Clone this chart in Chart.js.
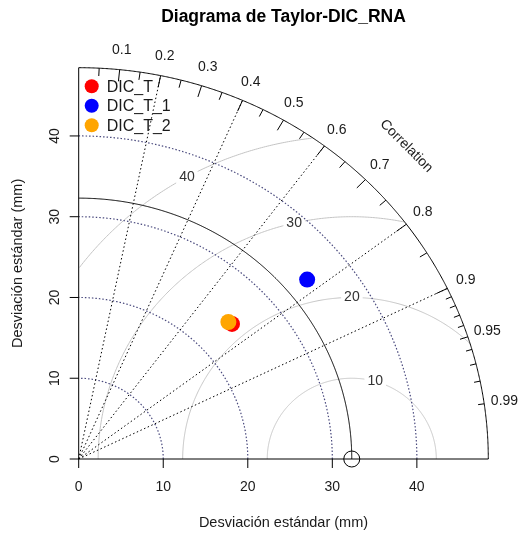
<!DOCTYPE html>
<html><head><meta charset="utf-8">
<script src="https://cdn.jsdelivr.net/npm/chart.js@4.4.1/dist/chart.umd.min.js"></script>
<style>html,body{margin:0;padding:0;background:#fff;}canvas{display:block}</style>
</head><body>
<canvas id="c" width="518" height="533"></canvas>
<script>
// ---- data ----
const seriesNames = ['DIC_T', 'DIC_T_1', 'DIC_T_2'];
const seriesSD = [24.67, 34.98, 24.52];
const seriesCor = [0.735, 0.7725, 0.722];
const refSD = 32.3;
const maxSD = 48.45;
const sdTicks = [0, 10, 20, 30, 40];
const sdArcs = [10, 20, 30, 40];
const rmsLevels = [10, 20, 30, 40];
const corLabels = [0.1, 0.2, 0.3, 0.4, 0.5, 0.6, 0.7, 0.8, 0.9, 0.95, 0.99];
const corLines = [0.2, 0.4, 0.6, 0.8, 0.9];
const corTicksMajor = [0.1, 0.2, 0.3, 0.4, 0.5, 0.6, 0.7, 0.8, 0.9];
const corTicksMinor = [0.05, 0.15, 0.25, 0.35, 0.45, 0.55, 0.65, 0.75, 0.85, 0.95];
const corTicksFine = [0.91, 0.92, 0.93, 0.94, 0.96, 0.97, 0.98, 0.99];
const titleText = 'Diagrama de Taylor-DIC_RNA';
const axisTitle = 'Desviación estándar (mm)';
const corTitle = 'Correlation';

// ---- styles ----
const seriesColors = ['#ff0000', '#0000ff', '#ffa500'];
const FONT = '"Liberation Sans", Arial, sans-serif';

const pts = seriesSD.map((s, i) => ({x: s * seriesCor[i], y: s * Math.sqrt(1 - seriesCor[i] * seriesCor[i])}));

const taylor = {
  id: 'taylor',
  beforeDatasetsDraw(chart, args, opts) {
    const ctx = chart.ctx, xs = chart.scales.x, ys = chart.scales.y;
    const P = (x, y) => [xs.getPixelForValue(x), ys.getPixelForValue(y)];
    const path = (list) => {
      if (!list.length) return;
      ctx.beginPath();
      list.forEach((p, i) => { const q = P(p[0], p[1]); i ? ctx.lineTo(q[0], q[1]) : ctx.moveTo(q[0], q[1]); });
      ctx.stroke();
    };
    const arc = (cx, r, a0, a1, filter) => {
      const out = []; const n = 500;
      for (let i = 0; i <= n; i++) {
        const a = a0 + (a1 - a0) * i / n;
        const x = cx + r * Math.cos(a), y = r * Math.sin(a);
        if (!filter || filter(x, y)) out.push([x, y]);
      }
      return out;
    };
    ctx.save();
    ctx.lineWidth = 1;
    // centred RMS arcs
    ctx.strokeStyle = '#c4c4c4';
    rmsLevels.forEach(g => path(arc(refSD, g, 0, Math.PI, (x, y) => x >= 0 && x * x + y * y <= maxSD * maxSD)));
    ctx.font = '14px ' + FONT;
    ctx.textAlign = 'center'; ctx.textBaseline = 'middle';
    rmsLevels.forEach((g, i) => {
      const a = opts.rmsLabelAngles[i];
      const q = P(refSD + g * Math.cos(a), g * Math.sin(a));
      const w = ctx.measureText(String(g)).width + 6;
      ctx.fillStyle = '#fff';
      ctx.fillRect(q[0] - w / 2, q[1] - 8, w, 16);
      ctx.fillStyle = '#333';
      ctx.fillText(String(g), q[0], q[1]);
    });
    // SD dotted arcs
    ctx.setLineDash([1.5, 2]);
    ctx.lineWidth = 1.2;
    ctx.strokeStyle = '#4a4a7e';
    sdArcs.forEach(r => path(arc(0, r, 0, Math.PI / 2)));
    // correlation radial lines
    ctx.lineWidth = 1;
    ctx.setLineDash([1.5, 2.5]);
    ctx.strokeStyle = '#000';
    corLines.forEach(c => path([[0, 0], [c * maxSD, Math.sqrt(1 - c * c) * maxSD]]));
    ctx.setLineDash([]);
    // reference SD arc and outer arc
    ctx.strokeStyle = '#000';
    path(arc(0, refSD, 0, Math.PI / 2));
    path(arc(0, maxSD, 0, Math.PI / 2));
    // axes lines
    path([[0, 0], [maxSD, 0]]);
    path([[0, 0], [0, maxSD]]);
    // correlation ticks
    const tick = (c, f) => path([[c * maxSD, Math.sqrt(1 - c * c) * maxSD], [c * maxSD * f, Math.sqrt(1 - c * c) * maxSD * f]]);
    corTicksMajor.forEach(c => tick(c, 0.97));
    corTicksMinor.forEach(c => tick(c, 0.98));
    corTicksFine.forEach(c => tick(c, 0.985));
    // axis ticks
    const y0 = ys.getPixelForValue(0), x0 = xs.getPixelForValue(0);
    sdTicks.forEach(v => {
      const xp = xs.getPixelForValue(v);
      ctx.beginPath(); ctx.moveTo(xp, y0); ctx.lineTo(xp, y0 + 9); ctx.stroke();
      const yp = ys.getPixelForValue(v);
      ctx.beginPath(); ctx.moveTo(x0, yp); ctx.lineTo(x0 - 9, yp); ctx.stroke();
    });
    ctx.restore();
  },
  afterDraw(chart, args, opts) {
    const ctx = chart.ctx, xs = chart.scales.x, ys = chart.scales.y, ca = chart.chartArea;
    const P = (x, y) => [xs.getPixelForValue(x), ys.getPixelForValue(y)];
    ctx.save();
    ctx.fillStyle = '#1a1a1a';
    ctx.textAlign = 'center'; ctx.textBaseline = 'middle';
    ctx.font = '14px ' + FONT;
    // correlation labels
    corLabels.forEach(c => {
      const q = P(c * 1.05 * maxSD, Math.sqrt(1 - c * c) * 1.05 * maxSD);
      ctx.fillText(String(c), q[0], q[1]);
    });
    // Correlation title
    const qc = P(0.8 * maxSD, 0.8 * maxSD);
    ctx.save(); ctx.translate(qc[0], qc[1]); ctx.rotate(Math.PI / 4); ctx.fillText(corTitle, 0, 0); ctx.restore();
    // x tick labels
    sdTicks.forEach(v => ctx.fillText(String(v), xs.getPixelForValue(v), ca.bottom + 28));
    // y tick labels
    sdTicks.forEach(v => {
      ctx.save(); ctx.translate(ca.left - 24, ys.getPixelForValue(v)); ctx.rotate(-Math.PI / 2);
      ctx.fillText(String(v), 0, 0); ctx.restore();
    });
    // axis titles
    ctx.font = '14.5px ' + FONT;
    ctx.fillText(axisTitle, (ca.left + ca.right) / 2, ca.bottom + 64);
    ctx.save(); ctx.translate(18, (ca.top + ca.bottom) / 2); ctx.rotate(-Math.PI / 2); ctx.fillText(axisTitle, 0, 0); ctx.restore();
    // main title
    ctx.fillStyle = '#000';
    ctx.font = 'bold 17.5px ' + FONT;
    ctx.fillText(titleText, (ca.left + ca.right) / 2, 17);
    // legend
    ctx.font = '16px ' + FONT;
    ctx.textAlign = 'left';
    seriesNames.forEach((n, i) => {
      const yy = ca.top + 18.5 + i * 19.5;
      ctx.beginPath(); ctx.arc(ca.left + 13, yy, 7, 0, Math.PI * 2);
      ctx.fillStyle = seriesColors[i]; ctx.fill();
      ctx.fillStyle = '#1a1a1a';
      ctx.fillText(n, ca.left + 28, yy + 1);
    });
    ctx.restore();
  }
};

const datasets = seriesNames.map((n, i) => ({
  label: n,
  data: [pts[i]],
  order: seriesNames.length - i,
  pointRadius: 8,
  pointHoverRadius: 8,
  backgroundColor: seriesColors[i],
  borderWidth: 0,
  clip: false
}));
datasets.unshift({
  label: 'ref',
  data: [{x: refSD, y: 0}],
  order: seriesNames.length + 1,
  pointRadius: 8,
  backgroundColor: 'rgba(0,0,0,0)',
  borderColor: '#000',
  borderWidth: 1,
  clip: false
});

new Chart(document.getElementById('c'), {
  type: 'scatter',
  data: {datasets},
  options: {
    responsive: false,
    animation: false,
    devicePixelRatio: 1,
    layout: {padding: {left: 78.7, right: 29.7, top: 67.7, bottom: 74}},
    scales: {
      x: {type: 'linear', min: 0, max: maxSD, display: false},
      y: {type: 'linear', min: 0, max: maxSD, display: false}
    },
    plugins: {
      legend: {display: false},
      tooltip: {enabled: false},
      title: {display: false},
      taylor: {rmsLabelAngles: [1.29, 1.57, 1.80, 2.08]}
    }
  },
  plugins: [taylor]
});
</script>
</body></html>
